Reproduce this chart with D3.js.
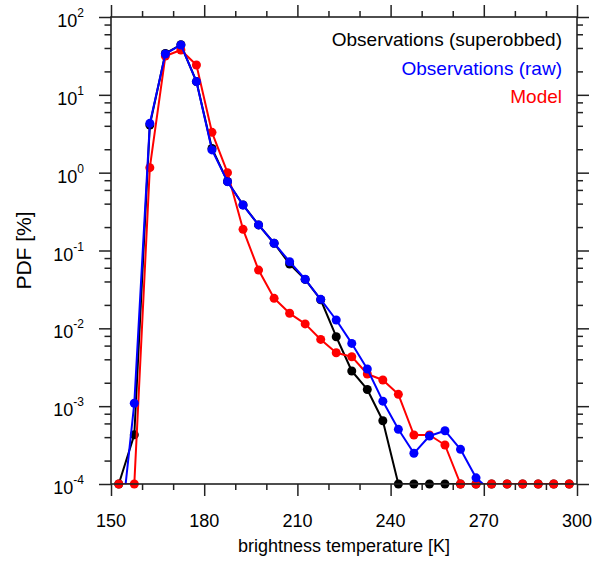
<!DOCTYPE html>
<html>
<head>
<meta charset="utf-8">
<script src="https://cdn.jsdelivr.net/npm/d3@7"></script>
<style>
  body { margin: 0; background: #fff; }
  text { font-family: "Liberation Sans", Arial, Helvetica, sans-serif; }
</style>
</head>
<body>
<svg id="chart"></svg>
<script>
// bin centres [K]
const binCenters = [152.5, 157.5, 162.5, 167.5, 172.5, 177.5, 182.5, 187.5, 192.5, 197.5,
    202.5, 207.5, 212.5, 217.5, 222.5, 227.5, 232.5, 237.5, 242.5, 247.5,
    252.5, 257.5, 262.5, 267.5, 272.5, 277.5, 282.5, 287.5, 292.5, 297.5];

// PDF [%] values
const superobbed = [1e-4, 4.3e-4, 4.1, 34, 44, 14.8, 2.05, 0.77, 0.385, 0.213,
    0.124, 0.067, 0.0425, 0.0233, 0.0078, 0.00283, 0.00164, 0.00065, 1e-4, 1e-4,
    1e-4, 1e-4, 1e-4, 1e-4, 1e-4, 1e-4, 1e-4, 1e-4, 1e-4, 1e-4];
const raw = [1.5e-5, 1.09e-3, 4.3, 33.5, 43.7, 14.8, 1.96, 0.766, 0.384, 0.213,
    0.124, 0.0718, 0.0427, 0.0236, 0.0128, 0.0064, 0.0030, 0.00116, 0.000504, 0.000248,
    0.000414, 0.000484, 0.000279, 0.00012, 8e-5, 8e-5, 8e-5, 8e-5, 8e-5, 8e-5];
const model = [1e-4, 1e-4, 1.16, 31.5, 37.7, 24.2, 3.3, 1.0, 0.187, 0.056,
    0.0243, 0.0156, 0.0114, 0.0072, 0.00486, 0.00432, 0.00259, 0.00217, 0.00142, 0.000426,
    0.000426, 0.000317, 1e-4, 1e-4, 1e-4, 1e-4, 1e-4, 1e-4, 1e-4, 1e-4];

const seriesNames = ["Observations (superobbed)", "Observations (raw)", "Model"];
const seriesColors = ["#000000", "#0000ff", "#ff0000"];

const xMajor = [150, 180, 210, 240, 270, 300];
const xMinor = [160, 170, 190, 200, 220, 230, 250, 260, 280, 290];
const yMajor = [1e-4, 1e-3, 1e-2, 1e-1, 1e0, 1e1, 1e2];
const yExponents = ["-4", "-3", "-2", "-1", "0", "1", "2"];
const yMinor = [2e-4, 4e-4, 6e-4, 8e-4, 2e-3, 4e-3, 6e-3, 8e-3, 2e-2, 4e-2, 6e-2, 8e-2,
    2e-1, 4e-1, 6e-1, 8e-1, 2, 4, 6, 8, 20, 40, 60, 80];

// set up for svg size and position
const svgWidth = 597;
const svgHeight = 561;
const margin = { top: 17, right: 20, bottom: 77, left: 111 };
const width = svgWidth - margin.left - margin.right;
const height = svgHeight - margin.top - margin.bottom;

const svg = d3.select("#chart")
    .attr("width", svgWidth)
    .attr("height", svgHeight)
    .append("g")
    .attr("transform", `translate(${margin.left}, ${margin.top})`);

const xScale = d3.scaleLinear().domain([150, 300]).range([0, width]);
const yScale = d3.scaleLog().domain([1e-4, 1e2]).range([height, 0]);

svg.append("defs").append("clipPath")
    .attr("id", "plotClip")
    .append("rect")
    .attr("x", 0).attr("y", 0)
    .attr("width", width).attr("height", height);

// draw the series: black, red, then blue on top
const drawOrder = [0, 2, 1];
const allSeries = [superobbed, raw, model];
const line = d3.line()
    .x(d => xScale(d[0]))
    .y(d => yScale(d[1]));

drawOrder.forEach(i => {
    const pts = binCenters.map((x, j) => [x, allSeries[i][j]]);
    svg.append("path")
        .datum(pts)
        .attr("clip-path", "url(#plotClip)")
        .attr("fill", "none")
        .attr("stroke", seriesColors[i])
        .attr("stroke-width", 2)
        .attr("stroke-linejoin", "round")
        .attr("d", line);
    svg.append("g")
        .selectAll("circle")
        .data(pts.filter(d => d[1] >= 1e-4))
        .join("circle")
        .attr("cx", d => xScale(d[0]))
        .attr("cy", d => yScale(d[1]))
        .attr("r", 4.5)
        .attr("fill", seriesColors[i]);
});

// axes with outward ticks on all four sides
const axisColor = "#222";
function styleAxis(g) {
    g.select(".domain").remove();
    g.selectAll("line").attr("stroke", axisColor).attr("stroke-width", 1.5);
    g.selectAll("text").remove();
}
svg.append("g").attr("transform", `translate(0, ${height})`)
    .call(d3.axisBottom(xScale).tickValues(xMajor).tickSize(12)).call(styleAxis);
svg.append("g").attr("transform", `translate(0, ${height})`)
    .call(d3.axisBottom(xScale).tickValues(xMinor).tickSize(6)).call(styleAxis);
svg.append("g")
    .call(d3.axisTop(xScale).tickValues(xMajor).tickSize(12)).call(styleAxis);
svg.append("g")
    .call(d3.axisTop(xScale).tickValues(xMinor).tickSize(6)).call(styleAxis);
svg.append("g")
    .call(d3.axisLeft(yScale).tickValues(yMajor).tickSize(12)).call(styleAxis);
svg.append("g")
    .call(d3.axisLeft(yScale).tickValues(yMinor).tickSize(6.5)).call(styleAxis);
svg.append("g").attr("transform", `translate(${width}, 0)`)
    .call(d3.axisRight(yScale).tickValues(yMajor).tickSize(12)).call(styleAxis);
svg.append("g").attr("transform", `translate(${width}, 0)`)
    .call(d3.axisRight(yScale).tickValues(yMinor).tickSize(6)).call(styleAxis);

// frame
svg.append("rect")
    .attr("width", width)
    .attr("height", height)
    .attr("fill", "none")
    .attr("stroke", axisColor)
    .attr("stroke-width", 1.6);

// x tick labels
svg.append("g")
    .selectAll("text")
    .data(xMajor)
    .join("text")
    .attr("x", d => xScale(d))
    .attr("y", height + 43)
    .attr("text-anchor", "middle")
    .attr("font-size", "18px")
    .attr("fill", "#000")
    .text(d => d);

// y tick labels 10^n
const yLab = svg.append("g")
    .selectAll("text")
    .data(yMajor)
    .join("text")
    .attr("x", -27)
    .attr("y", d => yScale(d) + 10)
    .attr("text-anchor", "end")
    .attr("font-size", "18px")
    .attr("fill", "#000");
yLab.append("tspan").text("10");
yLab.append("tspan")
    .attr("dy", -10)
    .attr("font-size", "12px")
    .text((d, i) => yExponents[i]);

// axis titles
svg.append("text")
    .attr("x", width / 2)
    .attr("y", height + 68)
    .attr("text-anchor", "middle")
    .attr("font-size", "18px")
    .text("brightness temperature [K]");

svg.append("text")
    .attr("transform", `translate(${31 - margin.left}, ${height / 2}) rotate(-90)`)
    .attr("text-anchor", "middle")
    .attr("font-size", "21px")
    .text("PDF [%]");

// legend, right-aligned text
svg.append("g")
    .selectAll("text")
    .data(seriesNames)
    .join("text")
    .attr("x", width - 15)
    .attr("y", (d, i) => 29 + i * 28.5)
    .attr("text-anchor", "end")
    .attr("font-size", "19px")
    .attr("fill", (d, i) => seriesColors[i])
    .text(d => d);
</script>
</body>
</html>
